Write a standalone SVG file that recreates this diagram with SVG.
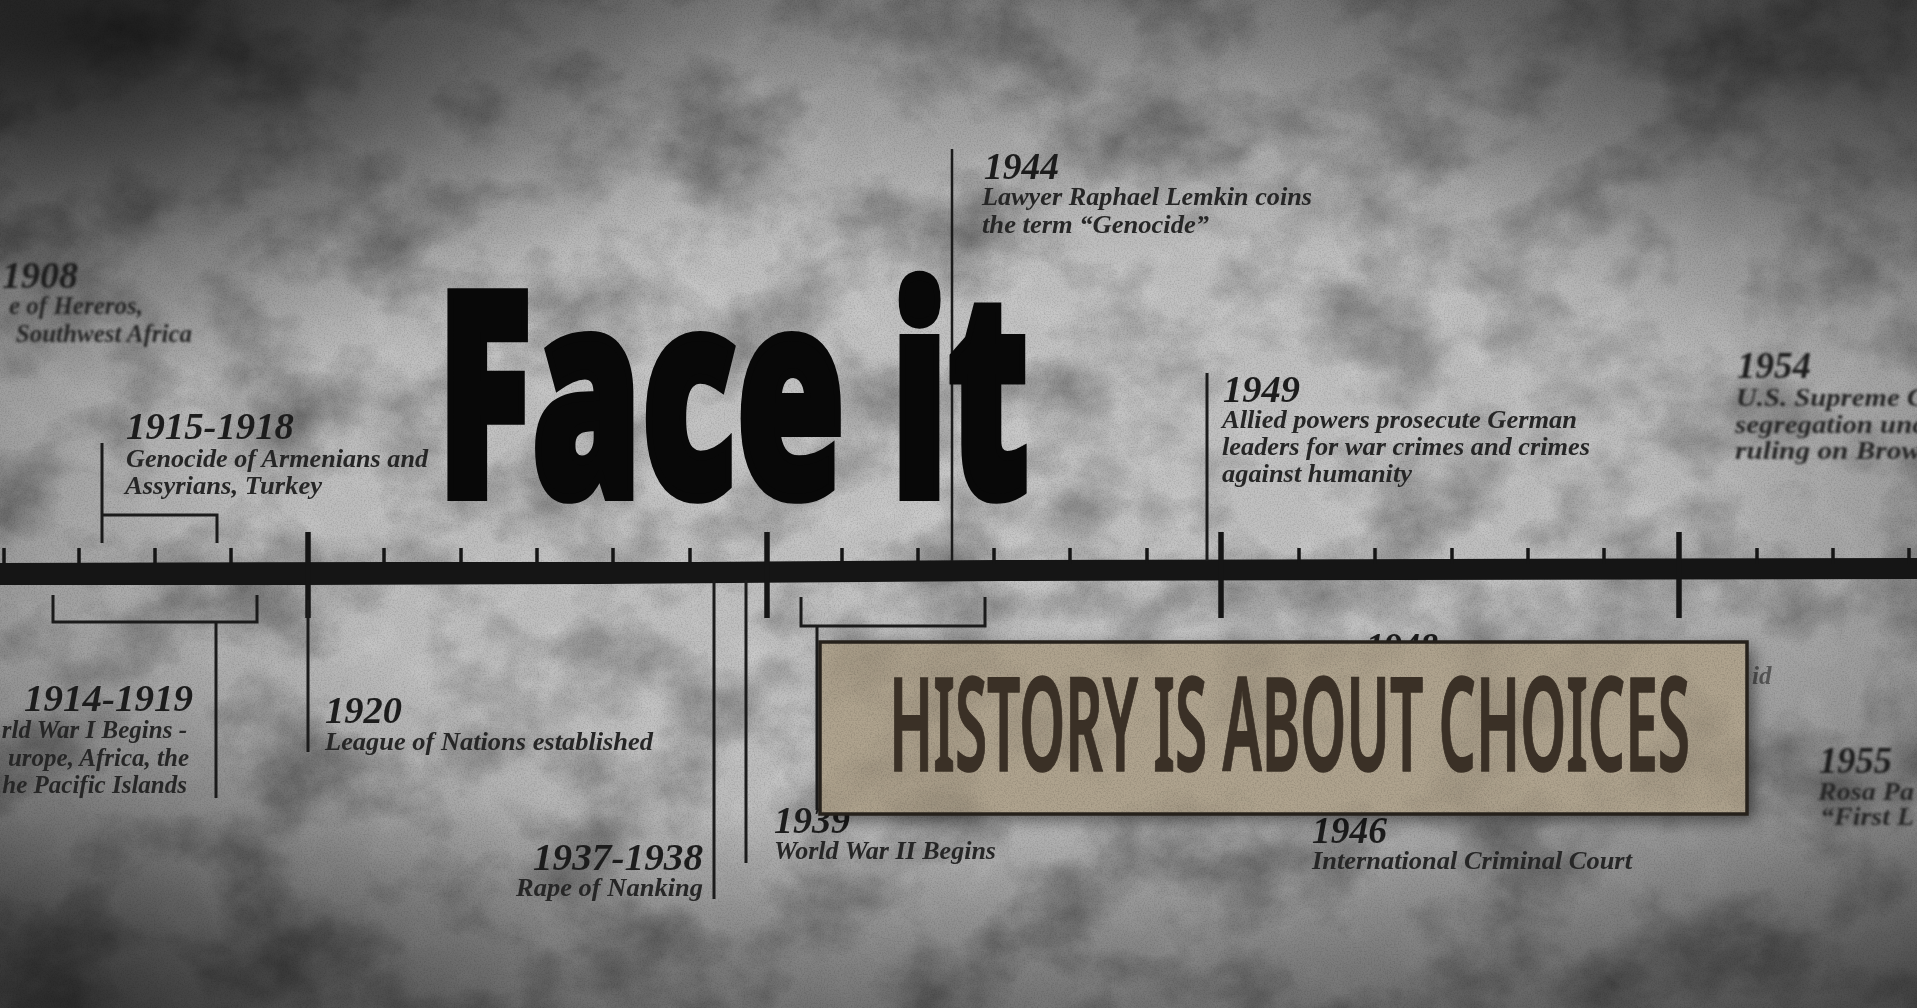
<svg xmlns="http://www.w3.org/2000/svg" width="1917" height="1008" viewBox="0 0 1917 1008">
<defs>
<style>
.yr{font-family:'Liberation Serif','DejaVu Serif',serif;font-style:italic;font-weight:bold;font-size:38px;fill:#1f1f1f}
.ds{font-family:'Liberation Serif','DejaVu Serif',serif;font-style:italic;font-weight:bold;font-size:25px;fill:#262626}
.ln{stroke:#1b1b1b;stroke-width:3;fill:none}
.tk{stroke:#151515;stroke-width:3.5}
.bt{stroke:#151515;stroke-width:5.5}
</style>
<filter id="dark" x="0" y="0" width="100%" height="100%">
<feTurbulence type="fractalNoise" baseFrequency="0.009 0.011" numOctaves="6" seed="11"/>
<feColorMatrix type="matrix" values="0 0 0 0 0  0 0 0 0 0  0 0 0 0 0  -0.8 0 0 0 0.46"/>
</filter>
<filter id="light" x="0" y="0" width="100%" height="100%">
<feTurbulence type="fractalNoise" baseFrequency="0.03" numOctaves="4" seed="21"/>
<feColorMatrix type="matrix" values="0 0 0 0 1  0 0 0 0 1  0 0 0 0 1  1.0 0 0 0 -0.48"/>
</filter>
<filter id="grain" x="0" y="0" width="100%" height="100%">
<feTurbulence type="fractalNoise" baseFrequency="0.7" numOctaves="2" seed="3"/>
<feColorMatrix type="matrix" values="0 0 0 0 0  0 0 0 0 0  0 0 0 0 0  -0.6 0 0 0 0.35"/>
</filter>
<filter id="b1"><feGaussianBlur stdDeviation="0.6"/></filter>
<filter id="b2"><feGaussianBlur stdDeviation="1.3"/></filter>
<filter id="shadow" x="-5%" y="-20%" width="115%" height="150%"><feDropShadow dx="6" dy="6" stdDeviation="9" flood-color="#000" flood-opacity="0.55"/></filter>
<radialGradient id="vig" cx="0.5" cy="0.45" r="0.72">
<stop offset="0" stop-color="#000" stop-opacity="0"/>
<stop offset="0.5" stop-color="#000" stop-opacity="0.04"/>
<stop offset="0.8" stop-color="#000" stop-opacity="0.28"/>
<stop offset="1" stop-color="#000" stop-opacity="0.52"/>
</radialGradient>
<linearGradient id="tb" x1="0" y1="0" x2="0" y2="1">
<stop offset="0" stop-color="#000" stop-opacity="0.28"/>
<stop offset="0.25" stop-color="#000" stop-opacity="0"/>
<stop offset="0.8" stop-color="#000" stop-opacity="0"/>
<stop offset="1" stop-color="#000" stop-opacity="0.22"/>
</linearGradient>
<radialGradient id="tl" cx="0.04" cy="0.04" r="0.35">
<stop offset="0" stop-color="#000" stop-opacity="0.65"/>
<stop offset="1" stop-color="#000" stop-opacity="0"/>
</radialGradient>
<radialGradient id="tr" cx="0.97" cy="0.06" r="0.3">
<stop offset="0" stop-color="#000" stop-opacity="0.35"/>
<stop offset="1" stop-color="#000" stop-opacity="0"/>
</radialGradient>
<radialGradient id="bl" cx="0.03" cy="0.97" r="0.3">
<stop offset="0" stop-color="#000" stop-opacity="0.3"/>
<stop offset="1" stop-color="#000" stop-opacity="0"/>
</radialGradient>
<clipPath id="boxclip"><rect x="820" y="642" width="927" height="172"/></clipPath>
</defs>

<!-- background -->
<rect width="1917" height="1008" fill="#c4c4c4"/>
<rect width="1917" height="1008" filter="url(#dark)"/>
<rect width="1917" height="1008" filter="url(#light)" opacity="0.35"/>
<rect width="1917" height="1008" filter="url(#grain)" opacity="0.45"/>
<rect width="1917" height="1008" fill="url(#vig)"/>
<rect width="1917" height="1008" fill="url(#tb)"/>
<rect width="1917" height="1008" fill="url(#tl)"/>
<rect width="1917" height="1008" fill="url(#tr)"/>
<rect width="1917" height="1008" fill="url(#bl)"/>

<!-- timeline -->
<g id="timeline">
<path d="M0,563 L400,562 L700,562 L1000,560 L1917,558 L1917,579 L1400,580 L1000,581 L600,584 L300,585 L0,585 Z" fill="#151515"/>
<g class="tk">
<line x1="4" y1="548" x2="4" y2="564"/><line x1="79" y1="548" x2="79" y2="564"/><line x1="155" y1="548" x2="155" y2="564"/><line x1="231" y1="548" x2="231" y2="564"/>
<line x1="384" y1="548" x2="384" y2="564"/><line x1="461" y1="548" x2="461" y2="564"/><line x1="537" y1="548" x2="537" y2="564"/><line x1="613" y1="548" x2="613" y2="564"/><line x1="690" y1="548" x2="690" y2="564"/>
<line x1="842" y1="548" x2="842" y2="564"/><line x1="918" y1="548" x2="918" y2="564"/><line x1="994" y1="548" x2="994" y2="564"/><line x1="1070" y1="548" x2="1070" y2="564"/><line x1="1147" y1="548" x2="1147" y2="564"/>
<line x1="1299" y1="548" x2="1299" y2="564"/><line x1="1375" y1="548" x2="1375" y2="564"/><line x1="1452" y1="548" x2="1452" y2="564"/><line x1="1528" y1="548" x2="1528" y2="564"/><line x1="1604" y1="548" x2="1604" y2="564"/>
<line x1="1757" y1="548" x2="1757" y2="564"/><line x1="1833" y1="548" x2="1833" y2="564"/><line x1="1909" y1="548" x2="1909" y2="564"/>
</g>
<g class="bt">
<line x1="308" y1="532" x2="308" y2="618"/><line x1="767" y1="532" x2="767" y2="618"/><line x1="1221" y1="532" x2="1221" y2="618"/><line x1="1679" y1="532" x2="1679" y2="618"/>
</g>
</g>

<!-- connectors -->
<g id="connectors" class="ln">
<path d="M102,443 V543 M102,515 H217 V543"/>
<path d="M53,595 V622 H257 V595 M216,622 V798"/>
<path d="M308,600 V752"/>
<path d="M714,580 V899"/>
<path d="M746,580 V863"/>
<path d="M952,149 V561" style="stroke-width:2.5"/>
<path d="M1207,373 V561"/>
<path d="M801,597 V626 H985 V597 M817,626 V810"/>
</g>

<!-- events -->
<g id="e1908" filter="url(#b2)">
<text class="yr" x="2" y="288" textLength="76" lengthAdjust="spacingAndGlyphs">1908</text>
<text class="ds" x="143" y="314" text-anchor="end">e of Hereros,</text>
<text class="ds" x="192" y="342" text-anchor="end">Southwest Africa</text>
</g>
<g id="e1915" filter="url(#b1)">
<text class="yr" x="126" y="439" textLength="168" lengthAdjust="spacingAndGlyphs">1915-1918</text>
<text class="ds" x="126" y="467" textLength="302" lengthAdjust="spacingAndGlyphs">Genocide of Armenians and</text>
<text class="ds" x="125" y="494" textLength="197" lengthAdjust="spacingAndGlyphs">Assyrians, Turkey</text>
</g>
<g id="e1914" filter="url(#b1)">
<text class="yr" x="24" y="711" textLength="169" lengthAdjust="spacingAndGlyphs">1914-1919</text>
<text class="ds" x="187" y="738" text-anchor="end">rld War I Begins -</text>
<text class="ds" x="189" y="766" text-anchor="end">urope, Africa, the</text>
<text class="ds" x="187" y="793" text-anchor="end">he Pacific Islands</text>
</g>
<g id="e1920" filter="url(#b1)">
<text class="yr" x="325" y="723" textLength="77" lengthAdjust="spacingAndGlyphs">1920</text>
<text class="ds" x="325" y="750" textLength="328" lengthAdjust="spacingAndGlyphs">League of Nations established</text>
</g>
<g id="e1937" filter="url(#b1)">
<text class="yr" x="533" y="870" textLength="170" lengthAdjust="spacingAndGlyphs">1937-1938</text>
<text class="ds" x="516" y="896" textLength="187" lengthAdjust="spacingAndGlyphs">Rape of Nanking</text>
</g>
<g id="e1939" filter="url(#b1)">
<text class="yr" x="774" y="833" textLength="76" lengthAdjust="spacingAndGlyphs">1939</text>
<text class="ds" x="774" y="859" textLength="222" lengthAdjust="spacingAndGlyphs">World War II Begins</text>
</g>
<g id="e1944" filter="url(#b1)">
<text class="yr" x="984" y="179" textLength="75" lengthAdjust="spacingAndGlyphs">1944</text>
<text class="ds" x="982" y="205" textLength="330" lengthAdjust="spacingAndGlyphs">Lawyer Raphael Lemkin coins</text>
<text class="ds" x="982" y="233" textLength="227" lengthAdjust="spacingAndGlyphs">the term “Genocide”</text>
</g>
<g id="e1949" filter="url(#b1)">
<text class="yr" x="1223" y="402" textLength="77" lengthAdjust="spacingAndGlyphs">1949</text>
<text class="ds" x="1222" y="428" textLength="355" lengthAdjust="spacingAndGlyphs">Allied powers prosecute German</text>
<text class="ds" x="1222" y="455" textLength="368" lengthAdjust="spacingAndGlyphs">leaders for war crimes and crimes</text>
<text class="ds" x="1222" y="482" textLength="190" lengthAdjust="spacingAndGlyphs">against humanity</text>
</g>
<g id="e1954" filter="url(#b2)">
<text class="yr" x="1737" y="378" textLength="74" lengthAdjust="spacingAndGlyphs">1954</text>
<text class="ds" x="1736" y="406" textLength="190" lengthAdjust="spacingAndGlyphs">U.S. Supreme C</text>
<text class="ds" x="1735" y="433" textLength="190" lengthAdjust="spacingAndGlyphs">segregation unc</text>
<text class="ds" x="1735" y="459" textLength="186" lengthAdjust="spacingAndGlyphs">ruling on Brow</text>
</g>
<g id="e1955" filter="url(#b2)">
<text class="yr" x="1819" y="773" textLength="73" lengthAdjust="spacingAndGlyphs">1955</text>
<text class="ds" x="1818" y="800" textLength="96" lengthAdjust="spacingAndGlyphs">Rosa Pa</text>
<text class="ds" x="1820" y="825" textLength="94" lengthAdjust="spacingAndGlyphs">“First L</text>
</g>
<g id="e1946" filter="url(#b1)">
<text class="yr" x="1312" y="843" textLength="75" lengthAdjust="spacingAndGlyphs">1946</text>
<text class="ds" x="1312" y="869" textLength="320" lengthAdjust="spacingAndGlyphs">International Criminal Court</text>
</g>
<g id="e1948" filter="url(#b1)">
<text class="yr" x="1366" y="659" textLength="72" lengthAdjust="spacingAndGlyphs">1948</text>
<text class="ds" x="1752" y="684" opacity="0.6">id</text>
</g>

<!-- Face it -->
<g id="title">
<text x="437" y="496" textLength="592" lengthAdjust="spacingAndGlyphs" font-family="'Noto Sans','Liberation Sans',sans-serif" font-weight="900" font-size="284" fill="#080808" stroke="#080808" stroke-width="10" stroke-linejoin="miter" style="font-stretch:62.5%">Face it</text>
</g>

<!-- banner -->
<g id="banner">
<rect x="820" y="642" width="927" height="172" fill="#afa38e" filter="url(#shadow)"/>
<g clip-path="url(#boxclip)">
<rect x="820" y="642" width="927" height="172" filter="url(#dark)" opacity="0.35"/>
<rect x="820" y="642" width="927" height="172" filter="url(#grain)" opacity="0.5"/>
</g>
<rect x="820" y="642" width="927" height="172" fill="none" stroke="#26211b" stroke-width="3.5"/>
<text x="889" y="771" textLength="801" lengthAdjust="spacingAndGlyphs" font-family="'Noto Sans','Liberation Sans',sans-serif" font-weight="600" font-size="130" fill="#3a3026" stroke="#3a3026" stroke-width="1.5" style="font-stretch:62.5%">HISTORY IS ABOUT CHOICES</text>
</g>
</svg>
